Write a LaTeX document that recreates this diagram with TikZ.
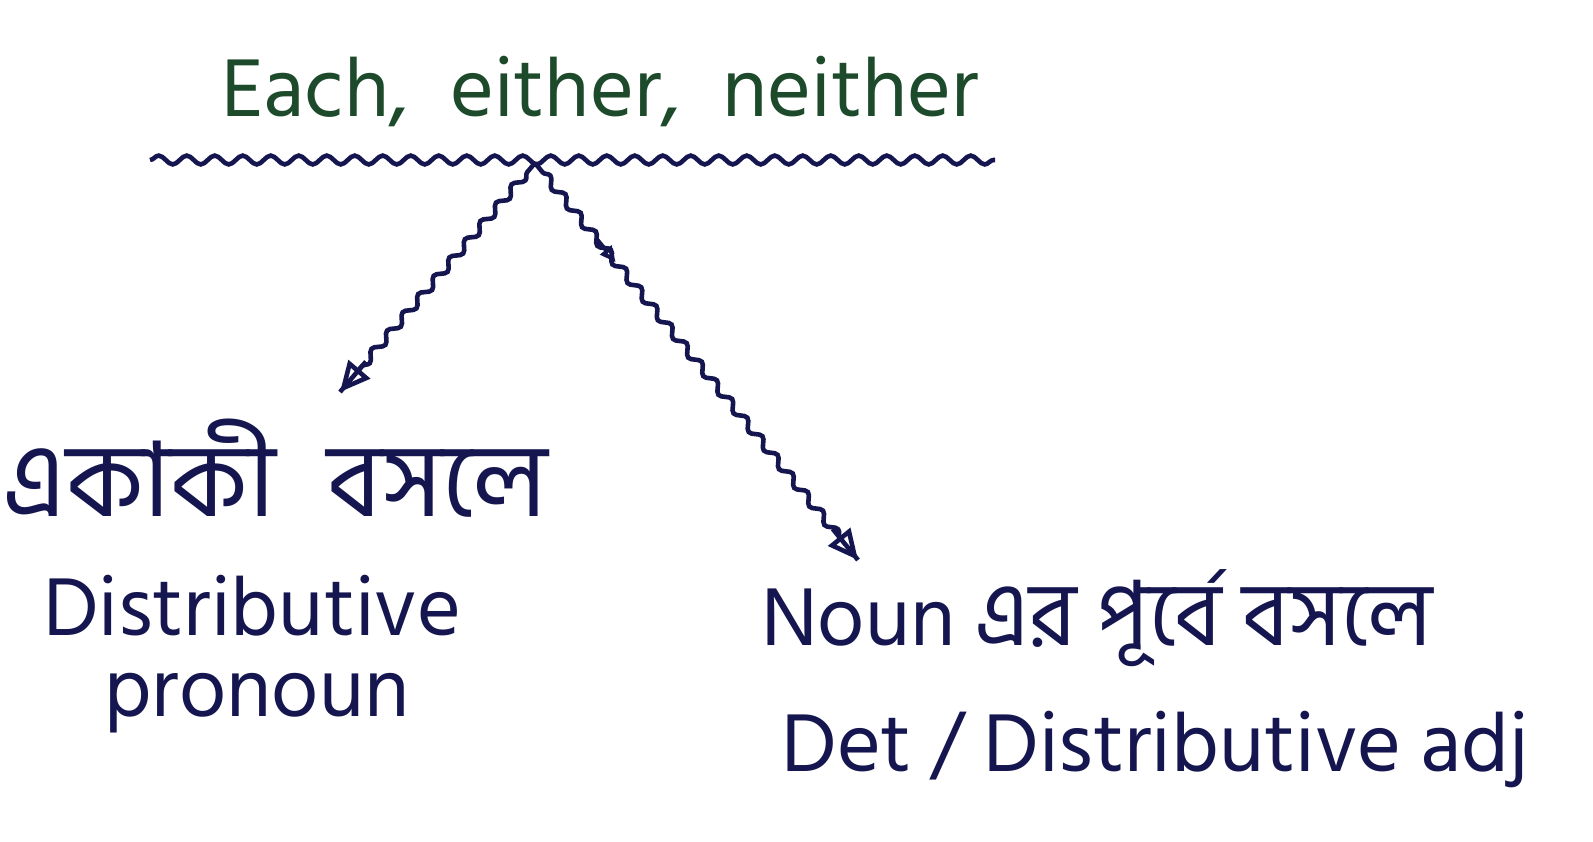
\documentclass[tikz,border=0pt]{standalone}
\usepackage{fontspec}
\usetikzlibrary{decorations.pathmorphing,arrows.meta,calc}
\newfontfamily\bnfont[Script=Bengali]{Hind Siliguri}
\setmainfont{Hind Siliguri}
\definecolor{inkgreen}{HTML}{1E4A2C}
\definecolor{inknavy}{HTML}{15164F}
\newcommand{\bnbig}{\fontsize{52}{58}\selectfont}
\newcommand{\bnmid}{\fontsize{45}{50}\selectfont}
\tikzset{
  lbl/.style={font=\bnfont\fontsize{42}{48}\selectfont, text=inknavy, inner sep=0pt},
  wavy/.style={draw=inknavy, line width=2.3pt, decorate, decoration={snake, amplitude=2.2pt, segment length=14pt}},
  arrowwave/.style={draw=inknavy, line width=2.3pt, decorate, decoration={snake, amplitude=2pt, segment length=12pt, post length=12pt, pre length=6pt}},
  tip/.style={-{Triangle[open, length=15pt, width=14pt, line width=2.3pt]}, draw=inknavy, line width=2.3pt},
  smalltip/.style={-{Triangle[open, length=8pt, width=7pt, line width=2pt]}, draw=inknavy, line width=2pt}
}
\begin{document}
\begin{tikzpicture}[x=0.5pt,y=-0.5pt]
\useasboundingbox (0,0) rectangle (1593,841);
\node[lbl, text=inkgreen] (title) at (600,92) {Each,\enspace either,\enspace neither};
\coordinate (wl) at (150,160);
\coordinate (wr) at (995,160);
\coordinate (junc) at (535,163);
\draw[wavy] (wl) -- (wr);
\coordinate (ltip) at (340,392);
\coordinate (rtip) at (858,560);
\draw[arrowwave] (junc) -- (ltip);
\draw[tip] ($(ltip)!20pt!(junc)$) -- (ltip);
\draw[arrowwave] (junc) -- (rtip);
\draw[tip] ($(rtip)!20pt!(junc)$) -- (rtip);
\draw[smalltip] ($(junc)!0.19!(rtip)$) -- ($(junc)!0.25!(rtip)$);
\node[lbl, font=\bnfont\bnbig] (bn1) at (275,468) {একাকী\enspace বসলে};
\node[lbl] (dp1) at (252,606) {Distributive};
\node[lbl] (dp2) at (257,703) {pronoun};
\node[lbl] (bn2) at (1097,618) {Noun {\bnmid এর পূর্বে বসলে}};
\node[lbl] (da) at (1155,750) {Det / Distributive adj};
\end{tikzpicture}
\end{document}
